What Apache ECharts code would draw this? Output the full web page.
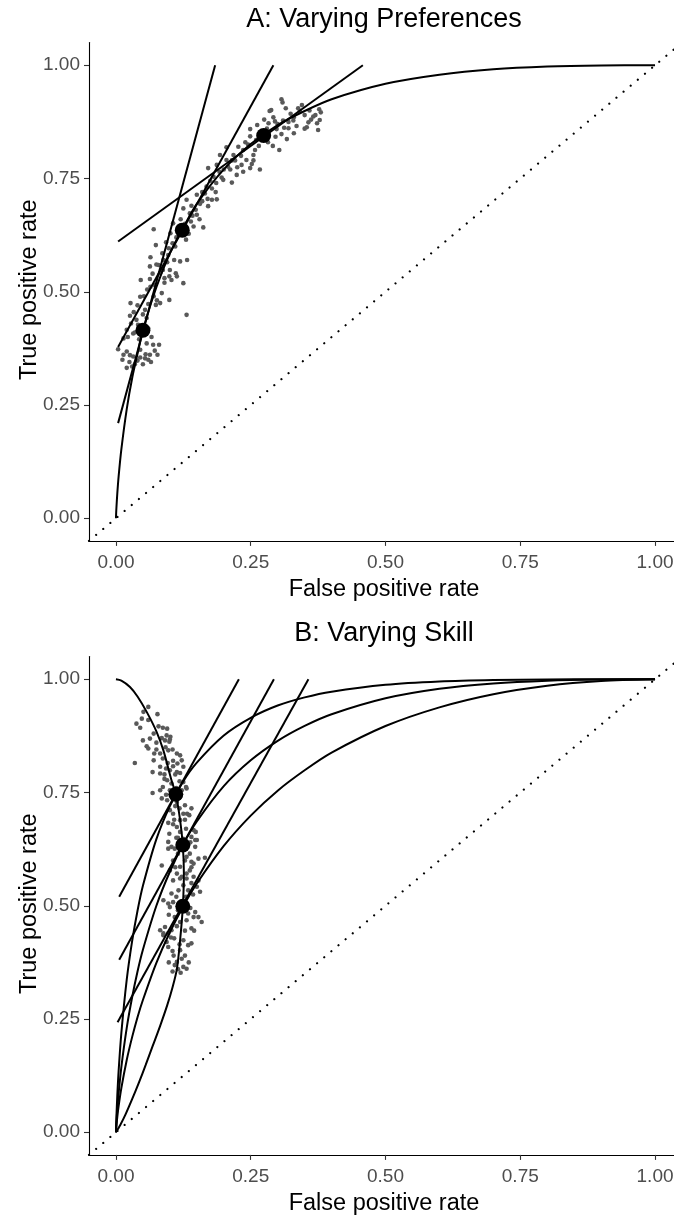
<!DOCTYPE html>
<html>
<head>
<meta charset="utf-8">
<script src="https://cdn.jsdelivr.net/npm/echarts@6/dist/echarts.min.js"></script>
<style>
  html, body { margin: 0; padding: 0; background: #fff; }
  #chart { width: 674px; height: 1215px; }
</style>
</head>
<body>
<div id="chart"></div>
<script>
// ---- Panel A: one ROC curve, three preference thresholds ----
const titleA = 'A: Varying Preferences';
const titleB = 'B: Varying Skill';
const xAxisTitle = 'False positive rate';
const yAxisTitle = 'True positive rate';
const tickValues = [0, 0.25, 0.5, 0.75, 1];

const rocA = [[0,0],[0.0005,0.015],[0.001,0.026],[0.0025,0.055],[0.005,0.093],[0.01,0.152],[0.02,0.241],
  [0.03,0.309],[0.04,0.363],[0.05,0.415],[0.075,0.510],[0.1,0.585],[0.125,0.642],[0.15,0.694],[0.2,0.770],
  [0.25,0.826],[0.3,0.868],[0.35,0.899],[0.4,0.925],[0.5,0.959],[0.6,0.979],[0.7,0.991],[0.8,0.997],
  [0.9,0.9995],[1,1]];

// tangent segments at the three chosen operating points
const tangentsA = [
  [[0.004,0.21],[0.184,1.0]],
  [[0.004,0.378],[0.292,1.0]],
  [[0.004,0.611],[0.458,1.0]]
];

const pointsA = [[0.05,0.415],[0.123,0.636],[0.274,0.845]];

const scatterA = [
  [0.307,0.925],[0.309,0.918],[0.288,0.901],[0.285,0.899],[0.324,0.893],[0.338,0.905],[0.341,0.899],
  [0.359,0.900],[0.377,0.903],[0.380,0.896],[0.366,0.887],[0.378,0.879],[0.373,0.872],[0.357,0.874],
  [0.354,0.863],[0.375,0.857],[0.335,0.866],[0.320,0.861],[0.307,0.848],[0.317,0.837],[0.303,0.813],
  [0.291,0.822],[0.295,0.876],[0.283,0.872],[0.298,0.859],[0.310,0.878],[0.329,0.878],[0.267,0.851],
  [0.270,0.835],[0.249,0.859],[0.249,0.843],[0.258,0.813],[0.255,0.802],[0.242,0.791],[0.236,0.813],
  [0.227,0.820],[0.218,0.802],[0.221,0.790],[0.205,0.791],[0.205,0.819],[0.193,0.802],[0.187,0.780],
  [0.171,0.773],[0.192,0.765],[0.181,0.754],[0.199,0.747],[0.215,0.741],[0.224,0.758],[0.236,0.765],
  [0.267,0.770],[0.252,0.782],[0.249,0.773],[0.233,0.780],[0.208,0.776],[0.186,0.740],[0.168,0.732],
  [0.165,0.717],[0.178,0.703],[0.187,0.704],[0.171,0.689],[0.156,0.694],[0.150,0.714],[0.148,0.681],
  [0.137,0.673],[0.131,0.703],[0.139,0.655],[0.144,0.644],[0.162,0.642],[0.125,0.684],[0.106,0.651],
  [0.101,0.629],[0.105,0.607],[0.093,0.609],[0.130,0.615],[0.070,0.638],[0.074,0.603],[0.097,0.581],
  [0.088,0.570],[0.079,0.559],[0.064,0.576],[0.063,0.556],[0.087,0.548],[0.100,0.548],[0.099,0.534],
  [0.082,0.541],[0.072,0.515],[0.085,0.497],[0.064,0.511],[0.063,0.528],[0.046,0.526],[0.076,0.481],
  [0.082,0.475],[0.060,0.473],[0.045,0.489],[0.027,0.475],[0.026,0.447],[0.038,0.438],[0.057,0.442],
  [0.074,0.471],[0.099,0.482],[0.119,0.567],[0.125,0.519],[0.103,0.526],[0.111,0.541],[0.132,0.570],
  [0.113,0.534],[0.131,0.449],[0.054,0.460],[0.060,0.419],[0.041,0.427],[0.032,0.408],[0.020,0.416],
  [0.014,0.397],[0.004,0.373],[0.014,0.361],[0.020,0.368],[0.032,0.357],[0.045,0.372],[0.057,0.386],
  [0.069,0.383],[0.080,0.383],[0.077,0.361],[0.063,0.361],[0.054,0.353],[0.012,0.350],[0.025,0.345],
  [0.035,0.340],[0.050,0.340],[0.060,0.350],[0.045,0.355],[0.020,0.332],[0.055,0.362],[0.065,0.345],
  [0.030,0.335],[0.110,0.600],[0.115,0.640],[0.140,0.690],[0.160,0.720],[0.175,0.745],[0.200,0.770],
  [0.215,0.790],[0.240,0.830],[0.260,0.835],[0.280,0.860],[0.300,0.870],[0.330,0.885],[0.350,0.890],
  [0.090,0.520],[0.070,0.490],[0.050,0.450],[0.035,0.410],[0.095,0.565],[0.120,0.660],[0.150,0.670],
  [0.245,0.825],[0.262,0.868],[0.275,0.880],[0.292,0.885],[0.315,0.905],[0.345,0.912],[0.362,0.880],
  [0.350,0.860],[0.330,0.850],[0.312,0.862],[0.296,0.842],[0.282,0.830],[0.265,0.822],[0.232,0.800],
  [0.212,0.770],[0.196,0.752],[0.178,0.728],[0.160,0.700],[0.142,0.668],[0.128,0.650],[0.112,0.620],
  [0.098,0.596],[0.086,0.585],[0.075,0.560],[0.068,0.540],[0.058,0.505],[0.052,0.490],[0.040,0.470],
  [0.033,0.455],[0.028,0.430],[0.022,0.400],[0.043,0.395],[0.066,0.400],[0.072,0.370],[0.040,0.348],
  [0.026,0.360],[0.090,0.530],[0.108,0.570],[0.135,0.628],[0.155,0.660],[0.170,0.705],[0.185,0.720],
  [0.225,0.775],[0.255,0.790],[0.320,0.875],[0.370,0.890]
];

// ---- Panel B: three ROC curves of different skill, one threshold slope ----
const rocB1 = [[0,0],[0.0005,0.021],[0.001,0.0385],[0.0025,0.081],[0.005,0.136],[0.01,0.219],[0.02,0.337],
  [0.03,0.422],[0.04,0.489],[0.05,0.544],[0.075,0.647],[0.1,0.720],[0.125,0.775],[0.15,0.816],[0.2,0.876],
  [0.25,0.915],[0.3,0.942],[0.35,0.960],[0.4,0.9726],[0.5,0.9877],[0.6,0.995],[0.7,0.9983],[0.8,0.9996],
  [0.9,0.99999],[1,1]];
const rocB2 = [[0,0],[0.0005,0.013],[0.001,0.0239],[0.0025,0.0505],[0.005,0.0864],[0.01,0.144],[0.02,0.2306],
  [0.03,0.298],[0.04,0.355],[0.05,0.403],[0.075,0.5],[0.1,0.575],[0.125,0.636],[0.15,0.686],[0.2,0.764],
  [0.25,0.821],[0.3,0.864],[0.35,0.897],[0.4,0.9228],[0.5,0.958],[0.6,0.979],[0.7,0.9908],[0.8,0.9969],
  [0.9,0.99945],[1,1]];
const rocB3 = [[0,0],[0.0005,0.0092],[0.001,0.0163],[0.0025,0.034],[0.005,0.058],[0.01,0.0975],[0.02,0.1596],
  [0.03,0.210],[0.04,0.254],[0.05,0.292],[0.075,0.374],[0.1,0.4416],[0.125,0.499],[0.15,0.549],[0.2,0.632],
  [0.25,0.699],[0.3,0.754],[0.35,0.799],[0.4,0.838],[0.5,0.8967],[0.6,0.938],[0.7,0.967],[0.8,0.9857],
  [0.9,0.9962],[1,1]];

const tangentsB = [
  [[0.006,0.52],[0.228,1.0]],
  [[0.006,0.381],[0.293,1.0]],
  [[0.003,0.243],[0.357,1.0]]
];

// locus of the chosen operating points as skill varies
const frontierB = [[0,1],[0.01,0.997],[0.026,0.983],[0.04,0.962],[0.057,0.928],[0.075,0.885],[0.088,0.843],
  [0.103,0.777],[0.111,0.746],[0.119,0.689],[0.124,0.634],[0.126,0.571],[0.124,0.497],[0.119,0.424],
  [0.113,0.36],[0.105,0.32],[0.095,0.28],[0.082,0.235],[0.068,0.19],[0.055,0.148],[0.042,0.108],
  [0.03,0.073],[0.018,0.04],[0.008,0.016],[0,0]];

const pointsB = [[0.111,0.746],[0.124,0.634],[0.124,0.499]];

const scatterB = [
  [0.048,0.913],[0.051,0.928],[0.038,0.902],[0.045,0.893],[0.060,0.939],[0.077,0.923],[0.079,0.896],
  [0.087,0.893],[0.095,0.891],[0.094,0.876],[0.101,0.873],[0.099,0.862],[0.100,0.867],[0.091,0.865],
  [0.050,0.865],[0.057,0.852],[0.063,0.869],[0.060,0.847],[0.071,0.836],[0.082,0.836],[0.087,0.825],
  [0.097,0.843],[0.113,0.836],[0.119,0.832],[0.122,0.821],[0.125,0.807],[0.106,0.820],[0.106,0.808],
  [0.114,0.814],[0.113,0.795],[0.119,0.793],[0.100,0.799],[0.093,0.803],[0.082,0.807],[0.070,0.821],
  [0.068,0.795],[0.035,0.815],[0.082,0.792],[0.095,0.777],[0.103,0.770],[0.087,0.762],[0.082,0.755],
  [0.068,0.749],[0.085,0.737],[0.095,0.733],[0.113,0.729],[0.122,0.755],[0.125,0.773],[0.130,0.762],
  [0.131,0.759],[0.119,0.740],[0.128,0.722],[0.132,0.703],[0.125,0.703],[0.136,0.700],[0.140,0.715],
  [0.100,0.711],[0.106,0.703],[0.097,0.683],[0.106,0.680],[0.119,0.689],[0.113,0.674],[0.119,0.663],
  [0.099,0.659],[0.144,0.667],[0.148,0.663],[0.140,0.652],[0.147,0.645],[0.097,0.641],[0.103,0.630],
  [0.097,0.626],[0.109,0.626],[0.134,0.634],[0.147,0.630],[0.150,0.645],[0.137,0.615],[0.131,0.608],
  [0.106,0.600],[0.119,0.586],[0.113,0.571],[0.122,0.564],[0.131,0.571],[0.137,0.578],[0.144,0.593],
  [0.153,0.604],[0.165,0.606],[0.140,0.597],[0.085,0.589],[0.100,0.578],[0.106,0.556],[0.119,0.560],
  [0.131,0.560],[0.144,0.564],[0.153,0.556],[0.150,0.542],[0.156,0.531],[0.134,0.534],[0.116,0.534],
  [0.103,0.527],[0.088,0.512],[0.097,0.505],[0.106,0.508],[0.134,0.483],[0.144,0.475],[0.153,0.475],
  [0.159,0.464],[0.131,0.468],[0.147,0.486],[0.119,0.464],[0.109,0.475],[0.100,0.497],[0.091,0.453],
  [0.088,0.439],[0.097,0.439],[0.103,0.446],[0.108,0.428],[0.094,0.420],[0.125,0.424],[0.134,0.413],
  [0.140,0.417],[0.097,0.409],[0.119,0.402],[0.122,0.383],[0.113,0.376],[0.131,0.361],[0.109,0.369],
  [0.088,0.435],[0.082,0.446],[0.105,0.355],[0.115,0.360],[0.125,0.365],[0.120,0.352],[0.110,0.720],
  [0.090,0.780],[0.075,0.860],[0.115,0.650],[0.130,0.520],[0.115,0.490],[0.140,0.450],[0.105,0.400],
  [0.060,0.910],[0.070,0.880],[0.085,0.870],[0.092,0.850],[0.105,0.845],[0.075,0.845],[0.096,0.815],
  [0.110,0.790],[0.090,0.790],[0.118,0.775],[0.100,0.755],[0.112,0.760],[0.093,0.745],[0.118,0.715],
  [0.108,0.690],[0.128,0.690],[0.130,0.670],[0.112,0.650],[0.125,0.648],[0.138,0.640],[0.115,0.615],
  [0.128,0.600],[0.140,0.585],[0.110,0.585],[0.125,0.545],[0.140,0.550],[0.112,0.520],[0.143,0.525],
  [0.128,0.505],[0.138,0.495],[0.098,0.480],[0.113,0.455],[0.128,0.445],[0.145,0.445],[0.102,0.430],
  [0.118,0.415],[0.107,0.390],[0.128,0.390],[0.098,0.375],[0.135,0.375]
];

const diagonal = [[-0.05,-0.05],[1.05,1.05]];

// ---- layout of the two panels (pixels) ----
const PANEL_LEFT = 89;
const PANEL_WIDTH = 593;
const PANEL_HEIGHT = 498.3;
const PANEL_TOPS = [42.6, 656.6];

const FONT = '"Liberation Sans", Arial, Helvetica, sans-serif';

function axisCommon(labelMargin) {
  return {
    min: -0.05, max: 1.05,
    splitLine: { show: false },
    axisLine: { show: true, onZero: false, lineStyle: { color: '#000', width: 1.1 } },
    axisTick: { show: true, length: 5, inside: false, customValues: tickValues,
      lineStyle: { color: '#333', width: 1.1 } },
    axisLabel: { customValues: tickValues, color: '#4d4d4d', fontSize: 19, fontFamily: FONT,
      margin: labelMargin, formatter: v => Number(v).toFixed(2) }
  };
}

// the panels run a little past the right edge of the page, so keep the grid exactly where placed
const grids = PANEL_TOPS.map(t => ({ left: PANEL_LEFT, top: t, width: PANEL_WIDTH, height: PANEL_HEIGHT,
  containLabel: false, outerBoundsMode: 'none' }));
const xAxes = grids.map((g, i) => Object.assign(axisCommon(12), { type: 'value', gridIndex: i }));
const yAxes = grids.map((g, i) => Object.assign(axisCommon(9), { type: 'value', gridIndex: i }));

function lineSeries(data, idx, extra) {
  return Object.assign({
    type: 'line', data: data, xAxisIndex: idx, yAxisIndex: idx,
    showSymbol: false, symbol: 'none', silent: true, z: 3,
    lineStyle: { color: '#000', width: 2 }
  }, extra || {});
}
function dotted(idx) {
  return lineSeries(diagonal, idx, { z: 2,
    lineStyle: { color: '#000', width: 2.2, type: [0.01, 9.3], cap: 'round' } });
}
function scatterSeries(data, idx, size, color, z) {
  return { type: 'scatter', data: data, xAxisIndex: idx, yAxisIndex: idx, symbolSize: size,
    itemStyle: { color: color, opacity: 1 }, silent: true, z: z };
}

const series = [];
// Panel A
series.push(dotted(0));
series.push(scatterSeries(scatterA, 0, 4.6, '#595959', 1));
series.push(lineSeries(rocA, 0, { smooth: 0.3 }));
tangentsA.forEach(t => series.push(lineSeries(t, 0)));
series.push(scatterSeries(pointsA, 0, 15, '#000', 5));
// Panel B
series.push(dotted(1));
series.push(scatterSeries(scatterB, 1, 4.6, '#595959', 1));
[rocB1, rocB2, rocB3].forEach(r => series.push(lineSeries(r, 1, { smooth: 0.3 })));
tangentsB.forEach(t => series.push(lineSeries(t, 1)));
series.push(lineSeries(frontierB, 1, { smooth: 0.3 }));
series.push(scatterSeries(pointsB, 1, 15, '#000', 5));

// panel titles and axis titles
const graphics = [];
[titleA, titleB].forEach((txt, i) => {
  const top = PANEL_TOPS[i];
  const cx = 384;
  graphics.push({ type: 'text', x: cx, y: top - 23, style: { text: txt, fontSize: 27,
    fontFamily: FONT, fill: '#000', textAlign: 'center', textVerticalAlign: 'middle' } });
  graphics.push({ type: 'text', x: cx, y: top + PANEL_HEIGHT + 49, style: { text: xAxisTitle,
    fontSize: 23.5, fontFamily: FONT, fill: '#000', textAlign: 'center', textVerticalAlign: 'middle' } });
  graphics.push({ type: 'text', x: 30, y: top + PANEL_HEIGHT / 2 - 2, rotation: Math.PI / 2,
    style: { text: yAxisTitle, fontSize: 23.5, fontFamily: FONT, fill: '#000',
      textAlign: 'center', textVerticalAlign: 'middle' } });
});

const chart = echarts.init(document.getElementById('chart'), null, { renderer: 'canvas' });
chart.setOption({
  animation: false,
  backgroundColor: '#fff',
  grid: grids,
  xAxis: xAxes,
  yAxis: yAxes,
  series: series,
  graphic: graphics
});
</script>
</body>
</html>
